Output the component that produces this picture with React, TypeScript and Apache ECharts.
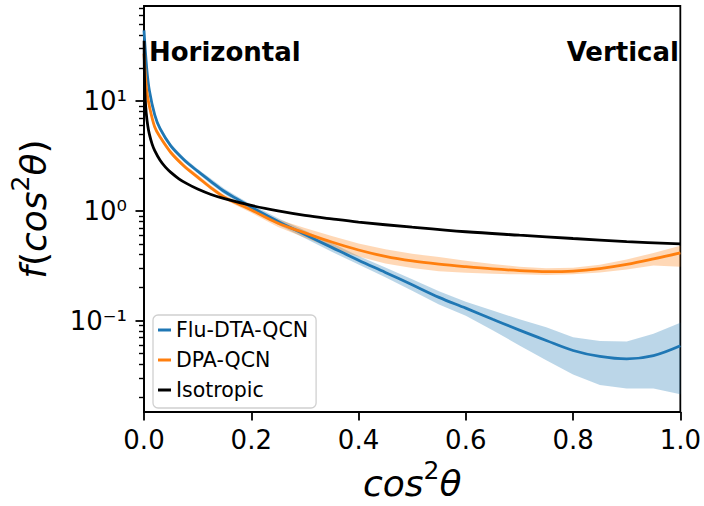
import React, { useEffect, useRef } from "react";
import * as echarts from "echarts";

// ---- data ----
const cosGrid = [0, 0.005, 0.01, 0.02, 0.03, 0.05, 0.075, 0.1, 0.125, 0.15, 0.175, 0.2, 0.25, 0.3, 0.35, 0.4, 0.45, 0.5, 0.55, 0.6, 0.65, 0.7, 0.75, 0.8, 0.85, 0.9, 0.95, 1.0];

const fluMean = [44, 20, 12.5, 7.5, 5.6, 3.9, 2.9, 2.3, 1.85, 1.5, 1.27, 1.08, 0.8, 0.61, 0.465, 0.355, 0.275, 0.212, 0.163, 0.13, 0.103, 0.082, 0.066, 0.0535, 0.0472, 0.0448, 0.048, 0.059];
const fluUpper = [46.1, 20.9, 13.1, 7.85, 5.86, 4.08, 3.04, 2.41, 1.96, 1.59, 1.345, 1.144, 0.858, 0.661, 0.51, 0.389, 0.305, 0.238, 0.185, 0.149, 0.124, 0.103, 0.087, 0.0705, 0.0651, 0.0647, 0.0761, 0.0957];
const fluLower = [42.0, 19.1, 11.9, 7.16, 5.35, 3.72, 2.77, 2.2, 1.75, 1.42, 1.2, 1.02, 0.746, 0.563, 0.424, 0.324, 0.248, 0.187, 0.14, 0.111, 0.0818, 0.0594, 0.0436, 0.0323, 0.026, 0.0241, 0.0241, 0.0214];

const dpaMean = [27, 12.5, 9.0, 5.8, 4.7, 3.4, 2.55, 2.03, 1.62, 1.33, 1.16, 1.02, 0.77, 0.63, 0.52, 0.44, 0.385, 0.35, 0.327, 0.31, 0.296, 0.286, 0.28, 0.283, 0.298, 0.325, 0.365, 0.415];
const dpaUpper = [28.3, 13.1, 9.42, 6.07, 4.92, 3.56, 2.67, 2.13, 1.7, 1.39, 1.22, 1.08, 0.835, 0.699, 0.59, 0.505, 0.447, 0.406, 0.38, 0.352, 0.328, 0.31, 0.3, 0.303, 0.323, 0.36, 0.414, 0.48];
const dpaLower = [25.8, 11.9, 8.6, 5.54, 4.49, 3.25, 2.44, 1.94, 1.55, 1.27, 1.1, 0.96, 0.711, 0.568, 0.458, 0.383, 0.332, 0.301, 0.282, 0.273, 0.267, 0.264, 0.261, 0.264, 0.275, 0.293, 0.318, 0.31];

const isoX = [0.0002, 0.0005, 0.001, 0.002, 0.004, 0.007, 0.01, 0.015, 0.02, 0.03, 0.04, 0.05, 0.065, 0.08, 0.1, 0.125, 0.15, 0.2, 0.25, 0.3, 0.35, 0.4, 0.5, 0.6, 0.7, 0.8, 0.9, 1.0];
const isoY = [35.36, 22.36, 15.81, 11.18, 7.91, 5.98, 5.0, 4.08, 3.54, 2.89, 2.5, 2.24, 1.96, 1.77, 1.58, 1.41, 1.29, 1.12, 1.0, 0.91, 0.845, 0.79, 0.71, 0.645, 0.6, 0.56, 0.525, 0.5];

const seriesNames = ["Flu-DTA-QCN", "DPA-QCN", "Isotropic"];
const xTickLabels = ["0.0", "0.2", "0.4", "0.6", "0.8", "1.0"];
const yTickExps = [-1, 0, 1];
const yTickLabels = ["10\u207B\u00B9", "10\u2070", "10\u00B9"];
const minorMantissas = [2, 3, 4, 5, 6, 7, 8, 9];
const minorExps = [-2, -1, 0, 1];

const Y_MIN = -1.833; // log10 of axis bottom
const Y_MAX = 1.866; // log10 of axis top

const FONT = "'DejaVu Sans', sans-serif";
const BLUE = "#1f77b4";
const ORANGE = "#ff7f0e";

function toLog(xs: number[], ys: number[]) {
  return xs.map((x, i) => [x, Math.log10(ys[i])]);
}

function bandSeries(lo: number[], hi: number[], fill: string) {
  return {
    type: "custom",
    silent: true,
    z: 1,
    clip: true,
    data: [[cosGrid[0], Math.log10(lo[0])]],
    encode: { x: 0, y: 1 },
    renderItem: (params: any, api: any) => {
      const pts: number[][] = [];
      for (let i = 0; i < cosGrid.length; i++) pts.push(api.coord([cosGrid[i], Math.log10(hi[i])]));
      for (let i = cosGrid.length - 1; i >= 0; i--) pts.push(api.coord([cosGrid[i], Math.log10(lo[i])]));
      return { type: "polygon", shape: { points: pts }, style: { fill } };
    },
  };
}

const titleRich = {
  i: { fontSize: 36, fontStyle: "italic", fontFamily: FONT, color: "#000", lineHeight: 50 },
  n: { fontSize: 36, fontFamily: FONT, color: "#000", lineHeight: 50 },
  s: { fontSize: 25, fontFamily: FONT, color: "#000", lineHeight: 25, verticalAlign: "top" },
};

export default function App() {
  const ref = useRef<HTMLDivElement>(null);
  useEffect(() => {
    if (!ref.current) return;
    const chart = echarts.init(ref.current, undefined, { renderer: "svg" });
    const minorTicks: number[] = [];
    minorExps.forEach((e) =>
      minorMantissas.forEach((m) => {
        const v = Math.log10(m) + e;
        if (v >= Y_MIN && v <= Y_MAX) minorTicks.push(v);
      })
    );
    const lineCommon = { type: "line", showSymbol: false, smooth: 0.35 };
    const option: any = {
      animation: false,
      textStyle: { fontFamily: FONT },
      grid: { left: 143, top: 6, right: 21, bottom: 87, show: true, borderColor: "#000", borderWidth: 1.8, backgroundColor: "transparent" },
      xAxis: {
        type: "value",
        min: 0,
        max: 1,
        interval: 0.2,
        name: "{i|cos}{s|2}{i|\u03B8}",
        nameLocation: "middle",
        nameGap: 45,
        nameTextStyle: { color: "#000", rich: titleRich },
        axisLine: { show: true, onZero: false, lineStyle: { color: "#000", width: 1.8 } },
        axisTick: { show: true, length: 8.5, lineStyle: { color: "#000", width: 1.8 } },
        axisLabel: {
          margin: 15,
          fontSize: 26,
          color: "#000",
          fontFamily: FONT,
          formatter: (v: number) => xTickLabels[Math.round(v / 0.2)] ?? "",
        },
        splitLine: { show: false },
      },
      yAxis: [
        {
          type: "value",
          min: Y_MIN,
          max: Y_MAX,
          position: "left",
          name: "{i|f}{n|(}{i|cos}{s|2}{i|\u03B8}{n|)}",
          nameLocation: "middle",
          nameGap: 86,
          nameRotate: 90,
          nameTextStyle: { color: "#000", rich: titleRich },
          axisLine: { show: true, onZero: false, lineStyle: { color: "#000", width: 1.8 } },
          axisTick: { show: true, length: 8.5, customValues: yTickExps, lineStyle: { color: "#000", width: 1.8 } },
          axisLabel: {
            customValues: yTickExps,
            margin: 17,
            fontSize: 26,
            color: "#000",
            fontFamily: FONT,
            padding: [4, 0, 0, 0],
            formatter: (v: number) => yTickLabels[yTickExps.indexOf(Math.round(v))] ?? "",
          },
          splitLine: { show: false },
        },
        {
          type: "value",
          min: Y_MIN,
          max: Y_MAX,
          position: "left",
          axisLine: { show: false, onZero: false },
          axisTick: { show: true, length: 5, customValues: minorTicks, lineStyle: { color: "#000", width: 1.4 } },
          axisLabel: { show: false },
          splitLine: { show: false },
        },
      ],
      legend: {
        data: seriesNames.map((n) => ({ name: n, icon: "rect" })),
        orient: "vertical",
        left: 153,
        top: 315,
        itemWidth: 13,
        itemHeight: 3,
        itemGap: 6,
        padding: [3, 8, 6, 5],
        backgroundColor: "rgba(255,255,255,0.8)",
        borderColor: "#d0d0d0",
        borderWidth: 1.3,
        borderRadius: 5,
        textStyle: { fontSize: 20.5, lineHeight: 24, color: "#000", fontFamily: FONT },
        selectedMode: false,
      },
      graphic: [
        {
          type: "text",
          x: 149,
          y: 52,
          style: { text: "Horizontal", font: `bold 26px ${FONT}`, fill: "#000", textAlign: "left", textVerticalAlign: "middle" },
          z: 10,
        },
        {
          type: "text",
          x: 679,
          y: 52,
          style: { text: "Vertical", font: `bold 26px ${FONT}`, fill: "#000", textAlign: "right", textVerticalAlign: "middle" },
          z: 10,
        },
      ],
      series: [
        bandSeries(fluLower, fluUpper, "rgba(31,119,180,0.3)"),
        {
          ...lineCommon,
          name: seriesNames[0],
          data: toLog(cosGrid, fluMean),
          lineStyle: { color: BLUE, width: 2.8 },
          itemStyle: { color: BLUE },
          z: 2,
        },
        bandSeries(dpaLower, dpaUpper, "rgba(255,127,14,0.3)"),
        {
          ...lineCommon,
          name: seriesNames[1],
          data: toLog(cosGrid, dpaMean),
          lineStyle: { color: ORANGE, width: 2.8 },
          itemStyle: { color: ORANGE },
          z: 3,
        },
        {
          ...lineCommon,
          name: seriesNames[2],
          data: toLog(isoX, isoY),
          lineStyle: { color: "#000", width: 2.8 },
          itemStyle: { color: "#000" },
          z: 4,
        },
      ],
    };
    chart.setOption(option);
    return () => chart.dispose();
  }, []);
  return <div ref={ref} style={{ position: "fixed", left: 0, top: 0, width: 704, height: 506, background: "#fff" }} />;
}
